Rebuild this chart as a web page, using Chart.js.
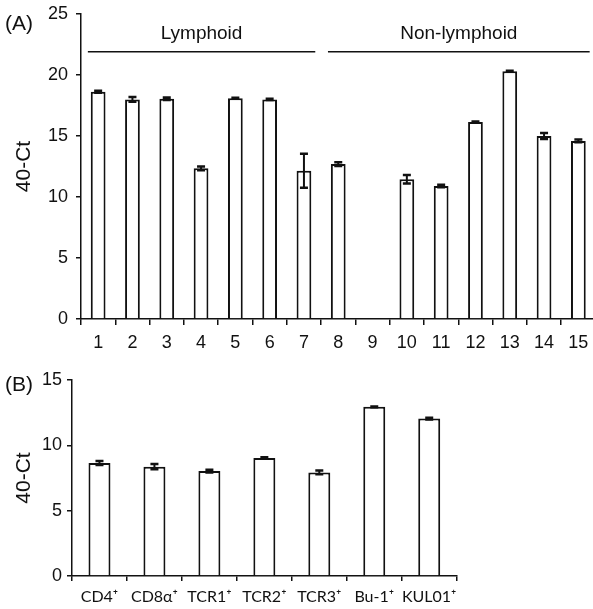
<!DOCTYPE html>
<html>
<head>
<meta charset="utf-8">
<script src="https://cdn.jsdelivr.net/npm/chart.js@4"></script>
<style>
body { margin: 0; background: #fff; overflow: hidden; width: 593px; height: 609px; position: relative; font-family: "Liberation Sans", Arial, sans-serif; }
canvas { position: absolute; }
.tag { position: absolute; font-size: 21px; color: #111; line-height: 24px; }
</style>
</head>
<body>
<canvas id="chartA" width="600" height="350" style="left:0;top:0"></canvas>
<canvas id="chartB" width="593" height="249" style="left:0;top:360px"></canvas>
<div class="tag" style="left:5px;top:11px">(A)</div>
<div class="tag" style="left:5px;top:372px">(B)</div>
<script>
// Panel A: tissues
const tissueLabels = ['1', '2', '3', '4', '5', '6', '7', '8', '9', '10', '11', '12', '13', '14', '15'];
const tissueMeans = [18.63, 18.0, 18.05, 12.35, 18.1, 18.0, 12.15, 12.7, null, 11.45, 10.9, 16.15, 20.3, 15.0, 14.6];
const tissueErrors = [0.08, 0.2, 0.1, 0.15, 0.03, 0.05, 1.4, 0.15, 0, 0.35, 0.1, 0.03, 0.04, 0.25, 0.12];
const yTicksA = [0, 5, 10, 15, 20, 25];

// tissue groups (index of first / last tissue)
const groupNames = ['Lymphoid', 'Non-lymphoid'];
const groupStart = [0, 7];
const groupEnd = [6, 14];

// Panel B: sorted cell populations
const cellLabels = ['CD4⁺', 'CD8α⁺', 'TCR1⁺', 'TCR2⁺', 'TCR3⁺', 'Bu-1⁺', 'KUL01⁺'];
const cellMeans = [8.65, 8.37, 8.03, 9.03, 7.93, 12.95, 12.05];
const cellErrors = [0.15, 0.2, 0.1, 0.05, 0.15, 0.03, 0.07];
const yTicksB = [0, 5, 10, 15];

const ink = '#111';
Chart.defaults.font.family = '"Liberation Sans", Arial, sans-serif';
Chart.defaults.color = ink;

// draws mean +/- error whiskers on top of the bars
const errorBars = {
    id: 'errorBars',
    afterDatasetsDraw(chart, args, opts) {
        const { ctx, scales: { y } } = chart;
        const meta = chart.getDatasetMeta(0);
        const values = chart.data.datasets[0].data;
        ctx.save();
        ctx.strokeStyle = ink;
        meta.data.forEach((bar, i) => {
            const v = values[i];
            const e = opts.errors[i];
            if (v == null || !e) return;
            const top = y.getPixelForValue(v + e);
            const bot = y.getPixelForValue(v - e);
            const half = opts.cap / 2;
            ctx.lineWidth = 2;
            ctx.beginPath();
            ctx.moveTo(bar.x, top); ctx.lineTo(bar.x, bot);
            ctx.stroke();
            ctx.lineWidth = 2.5;
            ctx.beginPath();
            ctx.moveTo(bar.x - half, top); ctx.lineTo(bar.x + half, top);
            ctx.moveTo(bar.x - half, bot); ctx.lineTo(bar.x + half, bot);
            ctx.stroke();
        });
        ctx.restore();
    }
};

// horizontal group lines with their names above
const groupLines = {
    id: 'groupLines',
    afterDraw(chart, args, opts) {
        if (!opts.names) return;
        const { ctx, scales: { x, y } } = chart;
        const step = x.getPixelForValue(1) - x.getPixelForValue(0);
        const lineY = y.getPixelForValue(opts.lineValue);
        const textY = y.getPixelForValue(opts.textValue);
        ctx.save();
        ctx.strokeStyle = ink;
        ctx.fillStyle = ink;
        ctx.lineWidth = 1.5;
        ctx.font = '19px "Liberation Sans", Arial, sans-serif';
        ctx.textAlign = 'center';
        ctx.textBaseline = 'middle';
        opts.names.forEach((name, i) => {
            const x0 = x.getPixelForValue(opts.start[i]) - step * 0.3;
            const x1 = x.getPixelForValue(opts.end[i]) + step * 0.33;
            ctx.beginPath();
            ctx.moveTo(x0, lineY); ctx.lineTo(x1, lineY);
            ctx.stroke();
            ctx.fillText(name, (x0 + x1) / 2, textY);
        });
        ctx.restore();
    }
};

function axisY(max, ticks, width, pad) {
    return {
        min: 0, max: max,
        afterBuildTicks: s => { s.ticks = ticks.map(v => ({ value: v })); },
        ticks: { font: { size: 18 }, padding: pad, color: ink },
        grid: { drawOnChartArea: false, drawTicks: true, tickLength: 5, color: ink, lineWidth: 1.5 },
        border: { color: ink, width: 1.5 },
        title: { display: true, text: '40-Ct', color: ink, font: { size: 21 }, padding: { top: 12, bottom: 0 } },
        afterFit: s => {
            s.width = width;
            // let the layout padding alone decide where the plot starts
            s.paddingTop = 0;
            s.paddingBottom = 0;
        }
    };
}

function axisX(height, font, tickLen, pad) {
    return {
        grid: { offset: true, drawOnChartArea: false, drawTicks: true, tickLength: tickLen, color: ink, lineWidth: 1.5 },
        border: { color: ink, width: 1.5 },
        ticks: { font: font, padding: pad, color: ink, maxRotation: 0, autoSkip: false },
        afterFit: s => { s.height = height; }
    };
}

new Chart(document.getElementById('chartA'), {
    type: 'bar',
    data: {
        labels: tissueLabels,
        datasets: [{
            data: tissueMeans,
            backgroundColor: '#fff',
            borderColor: ink,
            borderWidth: 2,
            barPercentage: 0.43,
            categoryPercentage: 1
        }]
    },
    options: {
        responsive: false,
        animation: false,
        layout: { padding: { top: 14, right: 4.5, left: 0, bottom: 0 } },
        plugins: {
            legend: { display: false },
            tooltip: { enabled: false },
            errorBars: { errors: tissueErrors, cap: 8 },
            groupLines: { names: groupNames, start: groupStart, end: groupEnd, lineValue: 21.9, textValue: 23.4 }
        },
        scales: {
            x: axisX(31, { size: 18 }, 6, 7),
            y: axisY(25, yTicksA, 81, 8)
        }
    },
    plugins: [errorBars, groupLines]
});

new Chart(document.getElementById('chartB'), {
    type: 'bar',
    data: {
        labels: cellLabels,
        datasets: [{
            data: cellMeans,
            backgroundColor: '#fff',
            borderColor: ink,
            borderWidth: 2,
            barPercentage: 0.4,
            categoryPercentage: 1
        }]
    },
    options: {
        responsive: false,
        animation: false,
        layout: { padding: { top: 20, right: 136.3, left: 0, bottom: 0 } },
        plugins: {
            legend: { display: false },
            tooltip: { enabled: false },
            errorBars: { errors: cellErrors, cap: 8 }
        },
        scales: {
            x: axisX(33, { size: 16, family: 'Lato, "Open Sans", sans-serif' }, 5, 6),
            y: axisY(15, yTicksB, 72, 5)
        }
    },
    plugins: [errorBars, groupLines]
});
</script>
</body>
</html>
